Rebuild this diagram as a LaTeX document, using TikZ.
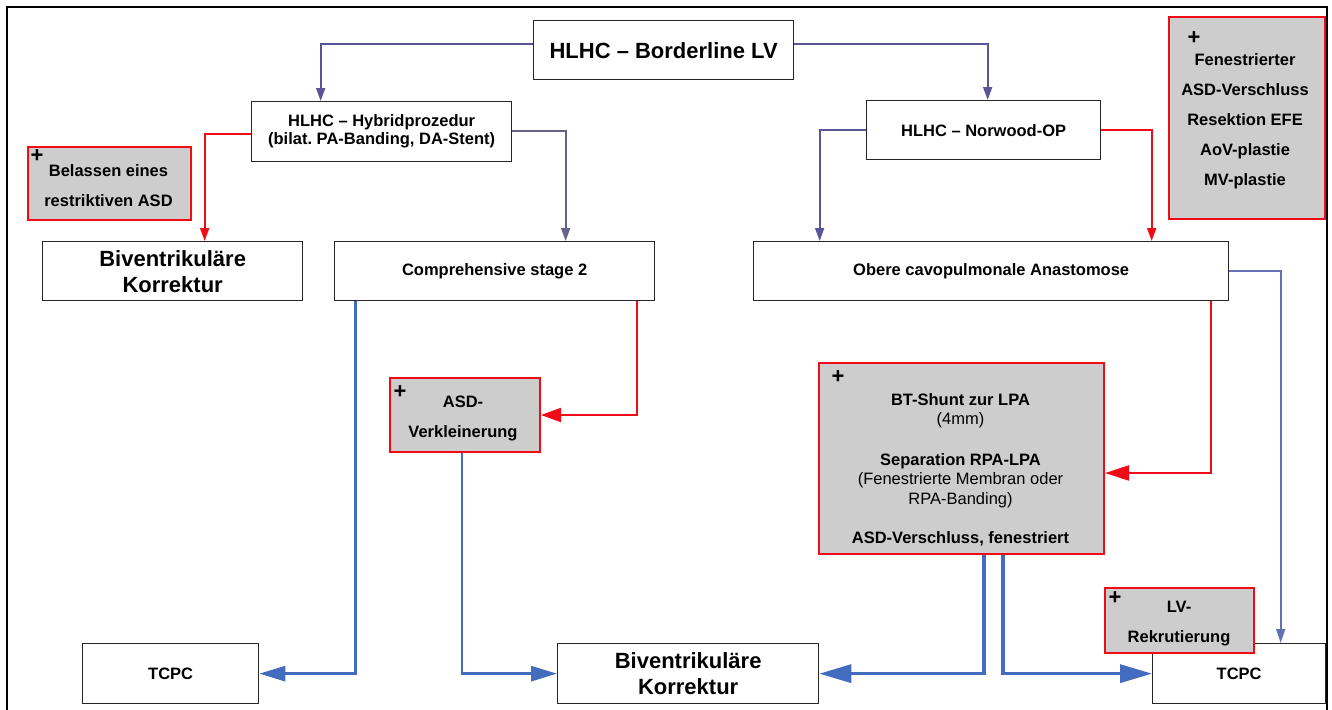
\documentclass[tikz,border=0pt]{standalone}
\usepackage{fontspec}
\setmainfont{Liberation Sans}
\usetikzlibrary{arrows.meta}
\definecolor{slate}{RGB}{88,86,150}
\definecolor{slategray}{RGB}{100,100,135}
\definecolor{lblue}{RGB}{100,112,180}
\definecolor{bblue}{RGB}{68,108,190}
\definecolor{rred}{RGB}{240,12,22}
\definecolor{boxgray}{RGB}{205,205,205}
\begin{document}
\begin{tikzpicture}[x=1pt,y=-1pt,
  box/.style={draw=black!85, line width=1.3pt, fill=white, anchor=north west, inner sep=0pt, align=center, font=\fontsize{16.5}{18}\selectfont\bfseries},
  bigbox/.style={box, font=\fontsize{22}{26}\selectfont\bfseries},
  grbox/.style={draw=rred, line width=2pt, fill=boxgray, anchor=north west, inner sep=0pt},
  grtext/.style={inner sep=0pt, align=center, font=\fontsize{16.5}{30}\selectfont\bfseries},
  plus/.style={inner sep=0pt, font=\fontsize{22}{22}\selectfont\bfseries},
  sl/.style={draw=slate, line width=1.7pt, -{Triangle[length=13pt,width=9pt]}},
  slg/.style={draw=slategray, line width=1.7pt, -{Triangle[length=13pt,width=9pt]}},
  slb/.style={draw=lblue, line width=1.7pt, -{Triangle[length=14pt,width=9pt]}},
  rl/.style={draw=rred, line width=1.8pt, -{Triangle[length=13pt,width=9pt]}},
  rlmid/.style={draw=rred, line width=2pt, -{Triangle[length=20pt,width=14pt]}},
  rlbig/.style={draw=rred, line width=2.2pt, -{Triangle[length=24pt,width=15pt]}},
  bl/.style={draw=bblue, line width=2.8pt, -{Triangle[length=26pt,width=15pt]}},
  blbig/.style={draw=bblue, line width=3.5pt, -{Triangle[length=32pt,width=18pt]}}
]
\useasboundingbox (0,0) rectangle (1332,709);
\fill[white] (0,0) rectangle (1332,709);
\draw[line width=2pt, black] (7,7) rectangle (1327,720);

% boxes
\node[bigbox, minimum width=260pt, minimum height=59pt] (top) at (533,20) {HLHC -- Borderline LV};
\node[box, minimum width=260pt, minimum height=60pt] (hyb) at (251,101) {HLHC -- Hybridprozedur\\(bilat.\ PA-Banding, DA-Stent)};
\node[bigbox, minimum width=260pt, minimum height=59pt] (biv1) at (42,241) {Biventrikuläre\\Korrektur};
\node[box, minimum width=320pt, minimum height=59pt] (comp) at (334,241) {Comprehensive stage 2};
\node[box, minimum width=234pt, minimum height=59pt] (nor) at (866,100) {HLHC -- Norwood-OP};
\node[box, minimum width=475pt, minimum height=59pt] (obere) at (753,241) {Obere cavopulmonale Anastomose};
\node[bigbox, minimum width=261pt, minimum height=60pt] (biv2) at (557,643) {Biventrikuläre\\Korrektur};
\node[box, minimum width=176pt, minimum height=60pt] (tcpcL) at (82,643) {TCPC};
\node[box, minimum width=173pt, minimum height=60pt] (tcpcR) at (1152,643) {TCPC};

% grey boxes
\node[grbox, minimum width=163pt, minimum height=73pt] (bel) at (27,146) {};
\node[grtext] (belt) at (108.5,186) {Belassen eines\\restriktiven ASD};
\node[plus] (belp) at (37,156) {+};

\node[grbox, minimum width=156pt, minimum height=202pt] (fen) at (1168,16) {};
\node[grtext] (fent) at (1245,121) {Fenestrierter\\ASD-Verschluss\\Resektion EFE\\AoV-plastie\\MV-plastie};
\node[plus] (fenp) at (1194,38) {+};

\node[grbox, minimum width=150pt, minimum height=74pt] (asd) at (389,377) {};
\node[grtext] (asdt) at (463,418) {ASD-\\Verkleinerung};
\node[plus] (asdp) at (400,392) {+};

\node[grbox, minimum width=285pt, minimum height=191pt] (bt) at (818,362) {};
\node[inner sep=0pt, align=center, font=\fontsize{16.5}{19.5}\selectfont\bfseries] (btt) at (960.5,470) {BT-Shunt zur LPA\\{\mdseries (4mm)}\\[21pt]Separation RPA-LPA\\{\mdseries (Fenestrierte Membran oder}\\{\mdseries RPA-Banding)}\\[20pt]ASD-Verschluss, fenestriert};
\node[plus] (btp) at (838,377) {+};

\node[grbox, minimum width=149pt, minimum height=65pt] (lv) at (1104,587) {};
\node[grtext] (lvt) at (1179,624) {LV-\\Rekrutierung};
\node[plus] (lvp) at (1115,598) {+};

% connectors
\draw[sl] ([yshift=6pt]top.west) -| ([xshift=-61pt]hyb.north);
\draw[sl] ([yshift=6pt]top.east) -| ([xshift=4pt]nor.north);
\draw[rl] ([yshift=-2pt]hyb.west) -| ([xshift=32pt]biv1.north);
\draw[slg] ([yshift=1pt]hyb.east) -| ([xshift=71pt]comp.north);
\draw[sl] (nor.west) -| ([xshift=-171.5pt]obere.north);
\draw[rl] (nor.east) -| ([xshift=160.5pt]obere.north);
\draw[slb] (obere.east) -| ([xshift=41.5pt]tcpcR.north);
\draw[rlbig] ([xshift=219.5pt]obere.south) |- ([yshift=-14.5pt]bt.east);
\draw[rlmid] ([xshift=142pt]comp.south) |- (asd.east);
\draw[bl] ([xshift=-3pt]asd.south) |- (biv2.west);
\draw[bl] ([xshift=-139pt]comp.south) |- (tcpcL.east);
\draw[blbig] ([xshift=22.5pt]bt.south) |- (biv2.east);
\draw[blbig] ([xshift=41.5pt]bt.south) |- (tcpcR.west);
\end{tikzpicture}
\end{document}
